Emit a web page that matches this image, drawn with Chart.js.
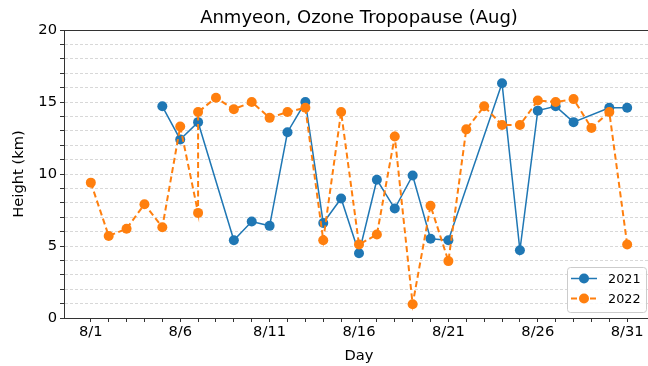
<!DOCTYPE html>
<html>
<head>
<meta charset="utf-8">
<style>
  html, body { margin: 0; padding: 0; overflow: hidden; background: #fff; }
  #wrap { width: 680px; height: 366px; }
</style>
<script src="https://cdn.jsdelivr.net/npm/chart.js@4/dist/chart.umd.min.js"></script>
</head>
<body>
<div id="wrap"><canvas id="c" width="680" height="366"></canvas></div>
<script>
// Ozone tropopause height (km) by day of August
const days2021 = [5, 6, 7, 9, 10, 11, 12, 13, 14, 15, 16, 17, 18, 19, 20, 21, 24, 25, 26, 27, 28, 30, 31];
const height2021 = [14.7, 12.4, 13.6, 5.4, 6.7, 6.4, 12.9, 15.0, 6.6, 8.3, 4.5, 9.6, 7.6, 9.9, 5.5, 5.4, 16.3, 4.7, 14.4, 14.7, 13.6, 14.6, 14.6];

const days2022 = [1, 2, 3, 4, 5, 6, 7, 7, 8, 9, 10, 11, 12, 13, 14, 15, 16, 17, 18, 19, 20, 21, 22, 23, 24, 25, 26, 27, 28, 29, 30, 31];
const height2022 = [9.4, 5.7, 6.2, 7.9, 6.3, 13.3, 7.3, 14.3, 15.3, 14.5, 15.0, 13.9, 14.3, 14.6, 5.4, 14.3, 5.1, 5.8, 12.6, 0.95, 7.8, 3.95, 13.1, 14.7, 13.4, 13.4, 15.1, 15.0, 15.2, 13.2, 14.3, 5.1];

const tickDays = [1, 2, 3, 4, 5, 6, 7, 8, 9, 10, 11, 12, 13, 14, 15, 16, 17, 18, 19, 20, 21, 22, 23, 24, 25, 26, 27, 28, 29, 30, 31];
const labelledDays = [1, 6, 11, 16, 21, 26, 31];
const heightTicks = [0, 1, 2, 3, 4, 5, 6, 7, 8, 9, 10, 11, 12, 13, 14, 15, 16, 17, 18, 19, 20];
const heightLabels = [0, 5, 10, 15, 20];

const BLUE = '#1f77b4';
const ORANGE = '#ff7f0e';
const FONT = 'DejaVu Sans';

Chart.defaults.font.family = FONT;
Chart.defaults.color = '#000';

const toPoints = (xs, ys) => xs.map((x, i) => ({ x: x, y: ys[i] }));

// Frame on all four sides of the plot area
const framePlugin = {
  id: 'frame',
  afterDraw(chart) {
    const { ctx, chartArea: a } = chart;
    ctx.save();
    ctx.strokeStyle = '#333';
    ctx.lineWidth = 1;
    ctx.strokeRect(Math.round(a.left) + 0.5, Math.round(a.top) + 0.5,
                   Math.round(a.right - a.left), Math.round(a.bottom - a.top));
    ctx.restore();
  }
};

// Legend box drawn inside the lower right of the plot
const innerLegend = {
  id: 'innerLegend',
  afterDraw(chart) {
    const { ctx } = chart;
    const box = { x: 567, y: 267, w: 79, h: 45 };
    ctx.save();
    ctx.fillStyle = 'rgba(255,255,255,0.85)';
    ctx.strokeStyle = '#cccccc';
    ctx.lineWidth = 1;
    ctx.beginPath();
    ctx.roundRect(box.x + 0.5, box.y + 0.5, box.w, box.h, 3);
    ctx.fill();
    ctx.stroke();
    chart.data.datasets.forEach((ds, i) => {
      const cy = box.y + 11.5 + i * 20;
      ctx.strokeStyle = ds.borderColor;
      ctx.lineWidth = ds.borderWidth;
      ctx.setLineDash(ds.borderDash || []);
      ctx.beginPath();
      ctx.moveTo(box.x + 4, cy);
      ctx.lineTo(box.x + 30, cy);
      ctx.stroke();
      ctx.setLineDash([]);
      ctx.fillStyle = ds.pointBackgroundColor;
      ctx.beginPath();
      ctx.arc(box.x + 17, cy, ds.pointRadius, 0, Math.PI * 2);
      ctx.fill();
      ctx.fillStyle = '#000';
      ctx.font = '12.8px "' + FONT + '"';
      ctx.textBaseline = 'middle';
      ctx.textAlign = 'left';
      ctx.fillText(ds.label, box.x + 41, cy + 1);
    });
    ctx.restore();
  }
};

new Chart(document.getElementById('c'), {
  type: 'line',
  data: {
    datasets: [
      {
        label: '2021',
        data: toPoints(days2021, height2021),
        borderColor: BLUE,
        backgroundColor: BLUE,
        pointBackgroundColor: BLUE,
        pointBorderWidth: 0,
        pointRadius: 5,
        borderWidth: 1.5,
        tension: 0,
        order: 1
      },
      {
        label: '2022',
        data: toPoints(days2022, height2022),
        borderColor: ORANGE,
        backgroundColor: ORANGE,
        pointBackgroundColor: ORANGE,
        pointBorderWidth: 0,
        pointRadius: 5,
        borderWidth: 2,
        borderDash: [6, 3.5],
        tension: 0,
        order: 0
      }
    ]
  },
  options: {
    responsive: false,
    animation: false,
    devicePixelRatio: 1,
    layout: { padding: { left: 0, right: 26, top: 0, bottom: 0 } },
    plugins: {
      legend: { display: false },
      tooltip: { enabled: false },
      title: {
        display: true,
        text: 'Anmyeon, Ozone Tropopause (Aug)',
        fullSize: false,
        color: '#000',
        font: { size: 18, weight: 'normal', family: FONT },
        padding: { top: 8, bottom: 0.4 }
      }
    },
    scales: {
      x: {
        type: 'linear',
        min: -0.5,
        max: 32.5,
        afterBuildTicks(scale) {
          scale.ticks = tickDays.map(d => ({ value: d }));
        },
        afterFit(scale) { scale.height = 48; },
        ticks: {
          autoSkip: false,
          maxRotation: 0,
          padding: 1,
          font: { size: 14.7 },
          color: '#000',
          callback: v => labelledDays.includes(v) ? '8/' + v : ''
        },
        grid: {
          drawOnChartArea: false,
          drawTicks: true,
          tickLength: 4,
          tickColor: '#333'
        },
        border: { color: '#333', width: 1 },
        title: {
          display: true,
          text: 'Day',
          color: '#000',
          font: { size: 14.7 },
          padding: { top: 0, bottom: 1 }
        }
      },
      y: {
        min: 0,
        max: 20,
        afterBuildTicks(scale) {
          scale.ticks = heightTicks.map(h => ({ value: h }));
        },
        afterFit(scale) { scale.width = 64; },
        ticks: {
          autoSkip: false,
          padding: 3,
          font: { size: 14.7 },
          color: '#000',
          callback: v => heightLabels.includes(v) ? String(v) : ''
        },
        grid: {
          color: '#d8d8d8',
          lineWidth: 1,
          tickLength: 4,
          tickColor: '#333'
        },
        border: { color: '#333', width: 1, dash: [3, 2] },
        title: {
          display: true,
          text: 'Height (km)',
          color: '#000',
          font: { size: 14.7 },
          padding: { top: 10, bottom: 0 }
        }
      }
    }
  },
  plugins: [framePlugin, innerLegend]
});
</script>
</body>
</html>
